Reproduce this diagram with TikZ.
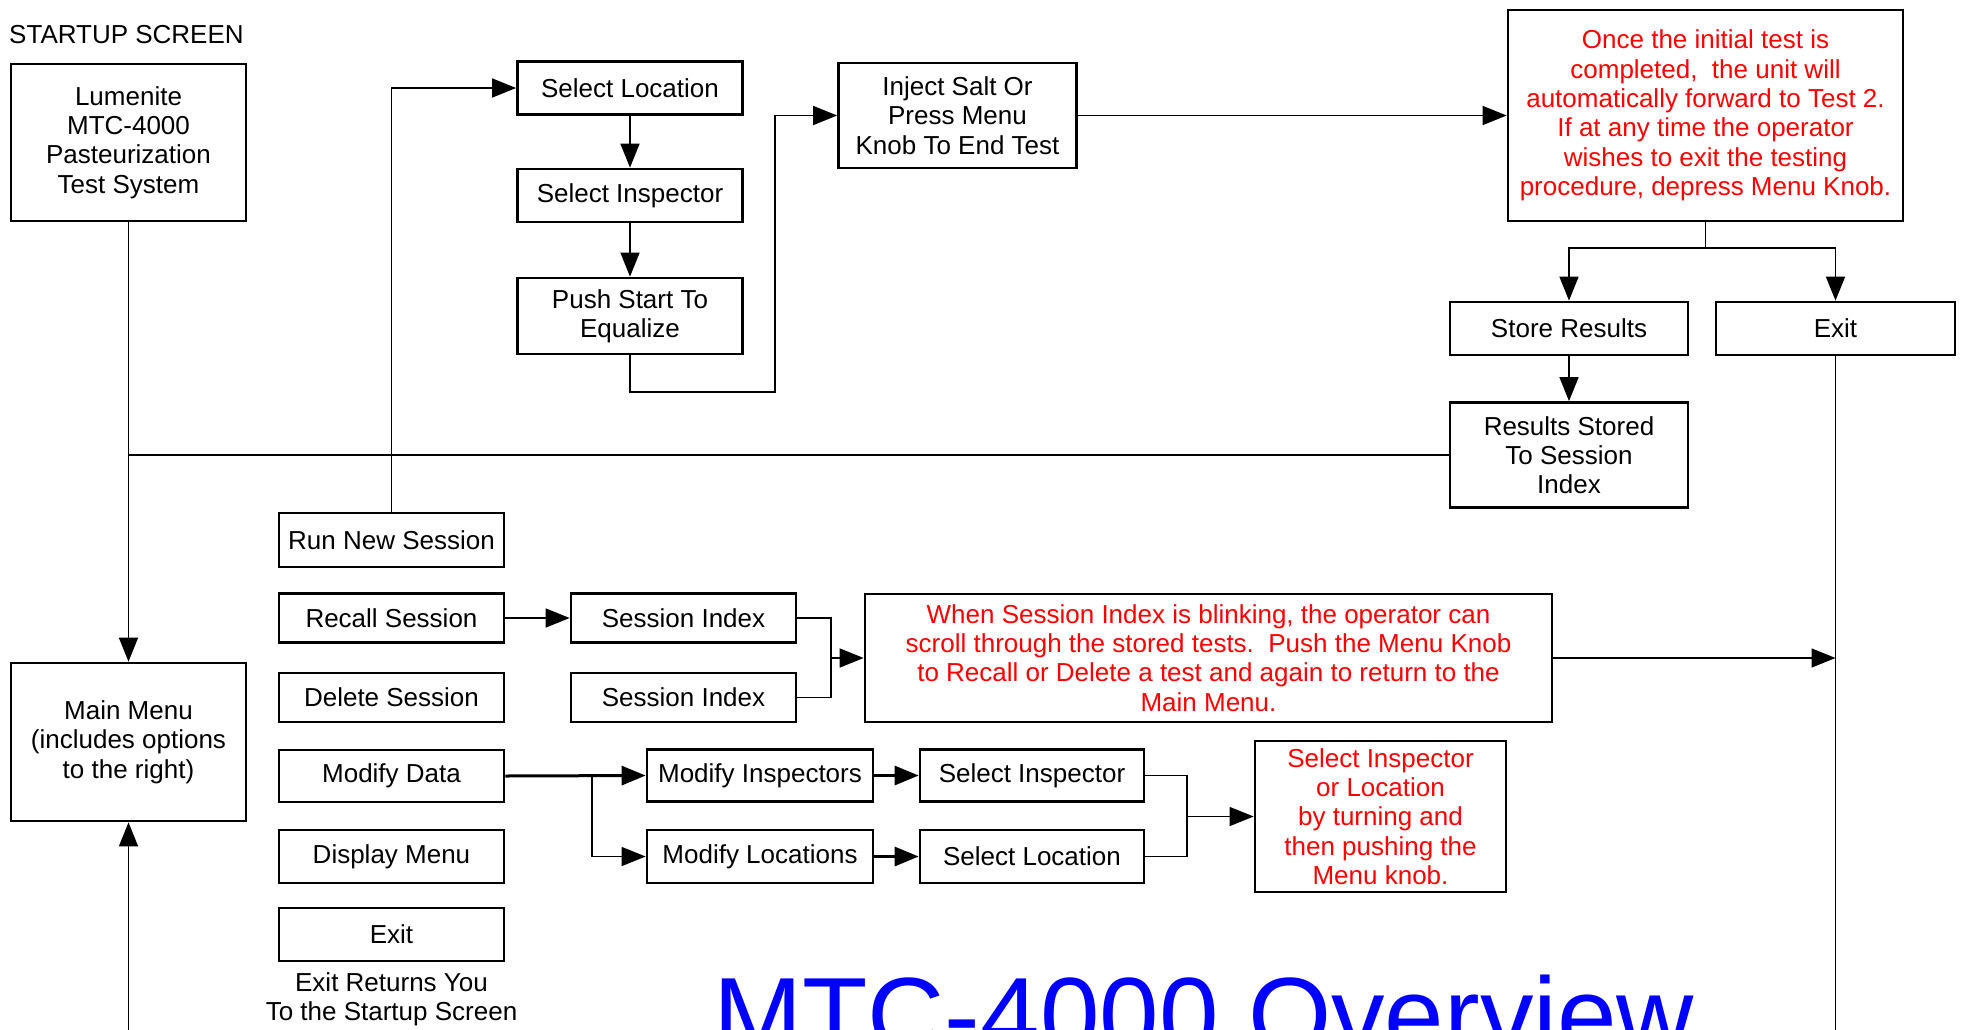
\documentclass[tikz,border=0pt]{standalone}
\usepackage{fontspec}
\setmainfont{Liberation Sans}
\usetikzlibrary{arrows.meta,calc}
\begin{document}
\begin{tikzpicture}[x=1pt,y=-1pt,
  txt/.style={font=\fontsize{26}{29.3}\selectfont},
  box/.style={draw, line width=2.7pt, inner sep=1pt, align=center, txt},
  redbox/.style={box, text=red},
  wh/.style 2 args={minimum width=#1pt, minimum height=#2pt},
  con/.style={line width=1.5pt},
  arr/.style={con, -{Triangle[length=24pt,width=19pt]}},
  tcon/.style={line width=3pt},
  tarr/.style={line width=3pt, -{Triangle[length=24pt,width=19pt]}},
]
\useasboundingbox (0,0) rectangle (1966,1029);
\clip (0,0) rectangle (1966,1029);
\fill[white] (0,0) rectangle (1966,1029);

% left column
\node[txt, anchor=base west, inner sep=0] (startup) at (9,43) {STARTUP SCREEN};
\node[box, wh={235}{157}] (lum) at (128.5,142.5) {Lumenite\\MTC-4000\\Pasteurization\\Test System};
\node[box, wh={235}{158}] (main) at (128.5,742) {Main Menu\\(includes options\\to the right)};

% menu options
\node[box, wh={225}{54}] (run) at (391.5,540) {Run New Session};
\node[box, wh={225}{49}] (recall) at (391.5,618) {Recall Session};
\node[box, wh={225}{49}] (delete) at (391.5,697.5) {Delete Session};
\node[box, wh={225}{52}] (modify) at (391.5,776) {Modify Data};
\node[box, wh={225}{53}] (display) at (391.5,856.5) {Display Menu};
\node[box, wh={225}{53}] (exitA) at (391.5,934.5) {Exit};
\node[txt, align=center, inner sep=0] (exitnote) at (391.5,999) {Exit Returns You\\To the Startup Screen};

% run session chain
\node[box, wh={225}{53}] (sloc) at (630,88) {Select Location};
\node[box, wh={225}{53}] (sinsp) at (630,195.5) {Select Inspector};
\node[box, wh={225}{76}] (push) at (630,316) {Push Start To\\Equalize};
\node[box, wh={238}{105}] (inject) at (957.5,115.5) {Inject Salt Or\\Press Menu\\Knob To End Test};
\node[redbox, wh={395}{211}] (red1) at (1705.5,115.5) {Once the initial test is\\completed,\ \ the unit will\\automatically forward to Test 2.\\If at any time the operator\\wishes to exit the testing\\procedure, depress Menu Knob.};
\node[box, wh={238}{53}] (store) at (1569,328.5) {Store Results};
\node[box, wh={239}{53}] (exitB) at (1835.5,328.5) {Exit};
\node[box, wh={238}{105}] (stored) at (1569,455) {Results Stored\\To Session\\Index};

% recall / delete
\node[box, wh={225}{49}] (si1) at (683.5,618) {Session Index};
\node[box, wh={225}{49}] (si2) at (683.5,697.5) {Session Index};
\node[redbox, wh={687}{128}] (red2) at (1208.5,658) {When Session Index is blinking, the operator can\\scroll through the stored tests.\ \ Push the Menu Knob\\to Recall or Delete a test and again to return to the\\Main Menu.};

% modify data
\node[box, wh={226}{52}] (minsp) at (760,775.5) {Modify Inspectors};
\node[box, wh={226}{53}] (mloc) at (760,856.5) {Modify Locations};
\node[box, wh={224}{52}] (sinsp2) at (1032,775.5) {Select Inspector};
\node[box, wh={224}{53}] (sloc2) at (1032,856.5) {Select Location};
\node[redbox, wh={251}{151}] (red3) at (1380.5,816.5) {Select Inspector\\or Location\\by turning and\\then pushing the\\Menu knob.};

% title
\node[anchor=base west, inner sep=0, text=blue, font=\fontsize{107}{120}\selectfont] (title) at (713,1052) {MTC-4000 Overview};

% helper coordinates
\coordinate (mmEnd) at (128.5,1045);
\coordinate (exEnd) at (1835.5,1045);
\coordinate (sp) at (1705.5,248);
\coordinate (pj) at (775,392);
\coordinate (m1) at (831,658);
\coordinate (m2) at (1187,816.5);
\coordinate (mb) at (592,776);

% connectors
\draw[arr] (lum.south) -- (main.north);
\draw[arr] (mmEnd) -- (main.south);
\draw[con] (stored.west) -- (stored.west -| lum.south);
\draw[arr] (run.north) |- (sloc.west);
\draw[arr] (sloc.south) -- (sinsp.north);
\draw[arr] (sinsp.south) -- (push.north);
\draw[arr] (push.south) |- (pj) |- (inject.west);
\draw[arr] (inject.east) -- (red1.west);
\draw[con] (red1.south) -- (sp);
\draw[arr] (sp) -| (store.north);
\draw[arr] (sp) -| (exitB.north);
\draw[arr] (store.south) -- (stored.north);
\draw[con] (exitB.south) -- (exEnd);
\draw[arr] (recall.east) -- (si1.west);
\draw[con] (si1.east) -| (m1) |- (si2.east);
\draw[arr] (m1) -- (red2.west);
\draw[arr] (red2.east) -- (red2.east -| exEnd);
\draw[tarr] (modify.east) -- (minsp.west);
\draw[arr] (mb) |- (mloc.west);
\draw[tarr] (minsp.east) -- (sinsp2.west);
\draw[tarr] (mloc.east) -- (sloc2.west);
\draw[con] (sinsp2.east) -| (m2) |- (sloc2.east);
\draw[arr] (m2) -- (red3.west);
\end{tikzpicture}
\end{document}
